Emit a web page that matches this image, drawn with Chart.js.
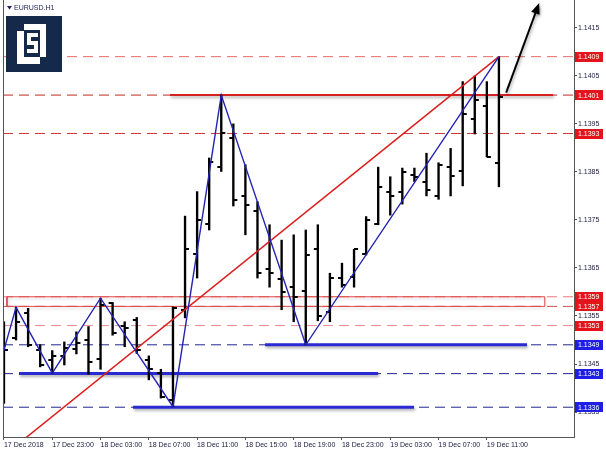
<!DOCTYPE html>
<html><head><meta charset="utf-8">
<script src="https://cdn.jsdelivr.net/npm/chart.js@4.4.0/dist/chart.umd.min.js"></script>
<style>html,body{margin:0;padding:0;background:#fff;}#wrap{width:606px;height:453px;}</style>
</head><body><div id="wrap"><canvas id="c" width="606" height="453"></canvas></div>
<script>
// ---- DATA (EURUSD H1, bar 0 = 17 Dec 2018 19:00) ----
const openP  = [1.13510,1.13504,1.13556,1.13479,1.13458,1.13467,1.13481,1.13499,1.13460,1.13577,
                1.13530,1.13542,1.13458,1.13431,1.13375,1.13563,1.13679,1.13742,1.13860,1.13920,
                1.13799,1.13769,1.13647,1.13627,1.13610,1.13601,1.13689,1.13559,1.13630,1.13632,
                1.13680,1.13742,1.13809,1.13809,1.13844,1.13828,1.13800,1.13860,1.13851,1.13960,
                1.13988,1.13869];
const highP  = [1.13538,1.13568,1.13566,1.13490,1.13478,1.13496,1.13517,1.13528,1.13587,1.13578,
                1.13538,1.13547,1.13467,1.13439,1.13569,1.13758,1.13809,1.13879,1.14010,1.13950,
                1.13865,1.13788,1.13740,1.13708,1.13719,1.13729,1.13740,1.13639,1.13660,1.13689,
                1.13757,1.13860,1.13840,1.13858,1.13858,1.13889,1.13869,1.13899,1.14038,1.14050,
                1.14038,1.14090];
const lowP   = [1.13368,1.13500,1.13486,1.13444,1.13431,1.13448,1.13471,1.13429,1.13439,1.13510,
                1.13486,1.13472,1.13417,1.13379,1.13361,1.13546,1.13629,1.13729,1.13851,1.13779,
                1.13719,1.13629,1.13610,1.13563,1.13538,1.13490,1.13540,1.13538,1.13610,1.13610,
                1.13677,1.13740,1.13760,1.13783,1.13830,1.13800,1.13793,1.13800,1.13821,1.13929,
                1.13881,1.13819];
const closeP = [1.13479,1.13538,1.13490,1.13448,1.13467,1.13483,1.13494,1.13455,1.13573,1.13515,
                1.13525,1.13479,1.13440,1.13381,1.13567,1.13689,1.13749,1.13871,1.13931,1.13792,
                1.13781,1.13640,1.13640,1.13599,1.13590,1.13677,1.13550,1.13629,1.13615,1.13689,
                1.13749,1.13819,1.13799,1.13849,1.13840,1.13813,1.13865,1.13842,1.13971,1.14000,
                1.13881,1.14005];

const xTickBars   = [0,4,8,12,16,20,24,28,32,36,40];
const xTickLabels = ['17 Dec 2018','17 Dec 23:00','18 Dec 03:00','18 Dec 07:00','18 Dec 11:00',
                     '18 Dec 15:00','18 Dec 19:00','18 Dec 23:00','19 Dec 03:00','19 Dec 07:00','19 Dec 11:00'];
const yTickValues = [1.1335,1.1345,1.1355,1.1365,1.1375,1.1385,1.1395,1.1405,1.1415];

const redLevels  = [1.1409,1.1401,1.1393,1.1359,1.1357,1.1353];
const blueLevels = [1.1349,1.1343,1.1336];

const zigzagBars   = [0,1,4,8,14,18,25,41];
const zigzagPrices = [1.13479,1.13568,1.13431,1.13587,1.13361,1.14010,1.13490,1.14090];

const trendBars   = [1.5,41];
const trendPrices = [1.1329,1.1409];

const arrowBars   = [41.6,44.25];
const arrowPrices = [1.14015,1.14196];

const resistBars  = [13.76,45.49];
const resistPrice = 1.1401;

const supportPrices = [1.1349,1.1343,1.1336];
const supportFrom   = [21.63,1.25,10.69];
const supportTo     = [43.33,30.99,33.97];

const zoneBars   = [0.25,44.8];
const zonePrices = [1.1357,1.1359];

const xMin = -0.08, xMax = 47.22, yMin = 1.13298, yMax = 1.14208;

// ---- STYLE ----
const redDashColors = ['#e86a6a','#c02828','#c83c3c','#e87878','#cc5050','#e89090'];
const blueDashColor = '#24248c';
const FONT = 'Liberation Sans';

function tickImage(side){
  const c=document.createElement('canvas'); c.width=10; c.height=2;
  const g=c.getContext('2d'); g.fillStyle='#000';
  if(side==='left') g.fillRect(1,0,4,2); else g.fillRect(5,0,4,2);
  return c;
}
const pts = (xs,ys)=>xs.map((x,i)=>({x,y:ys[i]}));

const datasets = [];
datasets.push({type:'line',data:pts(arrowBars,arrowPrices),borderColor:'#000',borderWidth:2,pointRadius:0,order:0,shadow:true});
datasets.push({type:'line',data:pts(zigzagBars,zigzagPrices),borderColor:'#2323b4',borderWidth:1.4,pointRadius:0,order:1,tension:0});
datasets.push({type:'line',data:pts(trendBars,trendPrices),borderColor:'#dc1e1e',borderWidth:1.5,pointRadius:0,order:2});
datasets.push({type:'bar',data:openP.map((_,i)=>({x:i,y:[lowP[i],highP[i]]})),backgroundColor:'#000',borderWidth:0,barThickness:1.7,order:4,grouped:false});
datasets.push({type:'scatter',data:openP.map((v,i)=>({x:i,y:v})),pointStyle:tickImage('left'),pointRadius:3,order:4});
datasets.push({type:'scatter',data:closeP.map((v,i)=>({x:i,y:v})),pointStyle:tickImage('right'),pointRadius:3,order:4});
datasets.push({type:'line',data:pts(resistBars,[resistPrice,resistPrice]),borderColor:'#d42020',borderWidth:2,pointRadius:0,order:6,shadow:true});
supportPrices.forEach((p,i)=>{
  datasets.push({type:'line',data:pts([supportFrom[i],supportTo[i]],[p,p]),borderColor:'#2a2ad2',borderWidth:3,pointRadius:0,order:6,shadow:true});
});
datasets.push({type:'line',data:pts([zoneBars[0],zoneBars[1],zoneBars[1],zoneBars[0],zoneBars[0]],[zonePrices[0],zonePrices[0],zonePrices[1],zonePrices[1],zonePrices[0]]),
  borderColor:'#e04848',borderWidth:1,pointRadius:0,order:7,fill:false,shadow:true,soft:true});
redLevels.forEach((p,i)=>{
  datasets.push({type:'line',data:pts([xMin,xMax],[p,p]),borderColor:redDashColors[i],borderWidth:1,borderDash:[10,6],pointRadius:0,order:8});
});
blueLevels.forEach(p=>{
  datasets.push({type:'line',data:pts([xMin,xMax],[p,p]),borderColor:blueDashColor,borderWidth:1,borderDash:[10,6],pointRadius:0,order:8});
});

const decor = {
  id:'decor',
  beforeDatasetDraw(chart,args){
    const ds=chart.data.datasets[args.index]; const ctx=chart.ctx; ctx.save();
    if(ds.shadow){ctx.shadowColor=ds.soft?'rgba(0,0,0,0.18)':'rgba(0,0,0,0.32)';ctx.shadowBlur=3;ctx.shadowOffsetX=1;ctx.shadowOffsetY=2;}
  },
  afterDatasetDraw(chart){ chart.ctx.restore(); },
  afterDatasetsDraw(chart){
    const ctx=chart.ctx; const meta=chart.getDatasetMeta(0);
    const p0=meta.data[0], p1=meta.data[1];
    const a=Math.atan2(p1.y-p0.y,p1.x-p0.x), L=11, W=4.5;
    const tx=p1.x+Math.cos(a)*3, ty=p1.y+Math.sin(a)*3;
    const bx=tx-Math.cos(a)*L, by=ty-Math.sin(a)*L;
    ctx.save();
    ctx.shadowColor='rgba(0,0,0,0.32)';ctx.shadowBlur=3;ctx.shadowOffsetX=1;ctx.shadowOffsetY=2;
    ctx.fillStyle='#000'; ctx.beginPath();
    ctx.moveTo(tx,ty);
    ctx.lineTo(bx+Math.sin(a)*W,by-Math.cos(a)*W);
    ctx.lineTo(bx-Math.sin(a)*W,by+Math.cos(a)*W);
    ctx.closePath(); ctx.fill(); ctx.restore();
  },
  afterDraw(chart){
    const ctx=chart.ctx, area=chart.chartArea, ys=chart.scales.y;
    ctx.save();
    ctx.strokeStyle='#555'; ctx.lineWidth=1; ctx.beginPath();
    ctx.moveTo(area.left+0.5,0); ctx.lineTo(area.left+0.5,area.bottom); ctx.stroke();
    ctx.fillStyle='#1e1e5a'; ctx.beginPath(); ctx.moveTo(7,6); ctx.lineTo(12,6); ctx.lineTo(9.5,9.5); ctx.closePath(); ctx.fill();
    ctx.font='7px "'+FONT+'"'; ctx.textBaseline='middle'; ctx.textAlign='left';
    ctx.fillText('EURUSD.H1',14,8);
    ctx.fillStyle='#15294a'; ctx.fillRect(6,16,56,56);
    ctx.fillStyle='#fff'; ctx.fillRect(17,24,29,40);
    ctx.fillStyle='#15294a';
    ctx.fillRect(17,24,7,7); ctx.fillRect(40,57,6,7);
    ctx.fillRect(24,30,16,27);
    ctx.fillStyle='#fff';
    ctx.fillRect(27,33,11,4); ctx.fillRect(27,33,4,11); ctx.fillRect(27,41,11,4);
    ctx.fillRect(34,41,4,12); ctx.fillRect(27,49,11,4);
    ctx.font='7px "'+FONT+'"';
    const box=(v,c)=>{const py=ys.getPixelForValue(v);ctx.fillStyle=c;ctx.fillRect(575,Math.round(py)-5,28,10);
      ctx.fillStyle='#fff';ctx.fillText(v.toFixed(4),578,py+0.5);};
    redLevels.forEach(v=>box(v,'#e3141c'));
    blueLevels.forEach(v=>box(v,'#1e1ee4'));
    ctx.restore();
  }
};

Chart.defaults.font.family = FONT;
Chart.defaults.font.size = 7;

new Chart(document.getElementById('c'),{
  type:'bar',
  data:{datasets},
  options:{
    responsive:false, animation:false,
    layout:{autoPadding:false,padding:{left:3,right:0,top:0,bottom:0}},
    plugins:{legend:{display:false},tooltip:{enabled:false}},
    scales:{
      x:{type:'linear',min:xMin,max:xMax,offset:false,
        grid:{drawOnChartArea:false,drawTicks:true,tickLength:3,color:'#555',offset:false},
        border:{display:true,color:'#555'},
        ticks:{align:'start',padding:1,color:'#20204a',autoSkip:false,maxRotation:0,
          callback:(v)=>{const k=xTickBars.indexOf(v);return k<0?'':xTickLabels[k];}},
        afterBuildTicks:(s)=>{s.ticks=xTickBars.map(v=>({value:v}));},
        afterFit:(s)=>{s.height=16;s.paddingLeft=0;s.paddingRight=0;}
      },
      y:{position:'right',min:yMin,max:yMax,beginAtZero:false,
        grid:{drawOnChartArea:false,tickLength:3,color:'#555'},
        border:{display:true,color:'#555'},
        ticks:{padding:1,color:'#20204a',autoSkip:false,callback:(v)=>Number(v).toFixed(4)},
        afterBuildTicks:(s)=>{s.ticks=yTickValues.map(v=>({value:v}));},
        afterFit:(s)=>{s.width=32;s.paddingTop=0;s.paddingBottom=0;}
      }
    }
  },
  plugins:[decor]
});
</script></body></html>
